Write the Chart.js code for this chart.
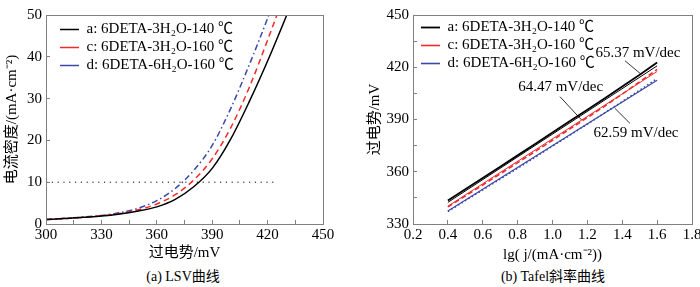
<!DOCTYPE html>
<html>
<head>
<meta charset="utf-8">
<script src="https://cdn.jsdelivr.net/npm/chart.js@4.4.1/dist/chart.umd.min.js"></script>
<style>
  body { margin: 0; background: #fff; width: 700px; height: 287px; position: relative; overflow: hidden;
         font-family: 'Liberation Serif', 'Noto Sans CJK SC', serif; }
  .panel { position: absolute; top: 0; width: 350px; height: 262px; }
  .cap { position: absolute; top: 268px; width: 350px; text-align: center; font-size: 14px; line-height: 18px; color: #000; }
</style>
</head>
<body>
<div class="panel" style="left:0"><canvas id="lsv"></canvas></div>
<div class="panel" style="left:350px"><canvas id="tafel"></canvas></div>
<div class="cap" style="left:8px">(a) LSV曲线</div>
<div class="cap" style="left:378px">(b) Tafel斜率曲线</div>
<script>
// series names (shared by both panels)
const seriesNames = ['a: 6DETA-3H₂O-140 ℃', 'c: 6DETA-3H₂O-160 ℃', 'd: 6DETA-6H₂O-160 ℃'];

// (a) LSV curves, current density in mA/cm2 vs overpotential in mV
const lsvPotential = [300, 310, 320, 330, 340, 350, 360, 370, 380, 390, 400, 410, 420, 430, 440];
const lsvA = [1.1, 1.3, 1.6, 1.9, 2.4, 3.1, 4.1, 5.9, 8.9, 13.3, 20.3, 29.2, 39.0, 49.6, 60.5];
const lsvC = [1.1, 1.3, 1.6, 1.95, 2.5, 3.4, 4.8, 7.0, 10.5, 15.6, 23.0, 32.6, 44.0, 56.0, 68];
const lsvD = [1.1, 1.35, 1.65, 2.05, 2.7, 3.8, 5.6, 8.5, 12.8, 18.8, 27.6, 38.0, 49.2, 61, 73];
const refLevel = 10;
const refRange = [300, 425];

// (b) Tafel plots, overpotential in mV vs lg(j)
const tafelLogJ = [0.4, 0.5, 0.6, 0.7, 0.8, 0.9, 1.0, 1.1, 1.2, 1.3, 1.4, 1.5, 1.6];
const tafelA = [343.5, 350.0, 356.4, 362.9, 369.4, 375.9, 382.5, 389.1, 395.6, 402.2, 408.9, 415.7, 422.7];
const tafelC = [339.8, 346.1, 352.4, 358.8, 365.2, 371.6, 378.1, 384.6, 391.1, 397.7, 404.6, 411.6, 418.8];
const tafelD = [337.2, 343.4, 349.6, 355.8, 362.0, 368.3, 374.7, 381.0, 387.4, 393.8, 400.3, 406.8, 413.6];
const fitLogJ = [0.4, 1.6];
const fitA = [342.4, 420.8];
const fitC = [340.2, 417.6];
const fitD = [337.5, 412.6];

// slope notes: text, anchor (lgj, mV), leader line ends
const slopeLabels = ['65.37 mV/dec', '64.47 mV/dec', '62.59 mV/dec'];
const slopeTextX = [1.49, 1.047, 1.479];
const slopeTextY = [428.3, 408.5, 382.4];
const leaderX = [[1.416, 1.502], [1.043, 1.167], [1.358, 1.444]];
const leaderY = [[423.7, 416.5], [403.1, 389.7], [396.4, 387.8]];

const black = '#000000';
const red = '#f22a2a';
const blue = '#3a48a8';
const frameGray = '#808080';

Chart.defaults.font.family = "'Liberation Serif', 'Noto Sans CJK SC', serif";
Chart.defaults.color = '#000';

function pts(xs, ys) { return xs.map((x, i) => ({ x: x, y: ys[i] })); }

const framePlugin = {
  id: 'frame',
  afterLayout(chart, args, opts) {
    const lg = chart.legend;
    if (lg) { lg.left += opts.dx; lg.right += opts.dx; lg.top += opts.dy; lg.bottom += opts.dy; }
  },
  afterDatasetsDraw(chart, args, opts) {
    const a = chart.chartArea, ctx = chart.ctx;
    ctx.save();
    ctx.strokeStyle = frameGray;
    ctx.lineWidth = 1;
    ctx.strokeRect(Math.round(a.left) + 0.5, Math.round(a.top) + 0.5, Math.round(a.right - a.left), Math.round(a.bottom - a.top));
    if (opts.notes) {
      ctx.fillStyle = '#000';
      ctx.font = "15px 'Liberation Serif', serif";
      ctx.textAlign = 'center';
      ctx.textBaseline = 'middle';
      opts.notes.forEach(n => {
        ctx.fillText(n.text, chart.scales.x.getPixelForValue(n.x), chart.scales.y.getPixelForValue(n.y));
      });
    }
    ctx.restore();
  }
};

function fixScale(w, h) {
  return function (scale) {
    if (w !== null) scale.width = w;
    if (h !== null) scale.height = h;
    scale.paddingLeft = 0; scale.paddingRight = 0; scale.paddingTop = 0; scale.paddingBottom = 0;
  };
}

function axisGrid() {
  return { drawOnChartArea: false, drawTicks: true, tickLength: -4, color: frameGray, tickColor: frameGray };
}

function legendOpts() {
  return {
    position: 'chartArea', align: 'start',
    labels: {
      usePointStyle: true, pointStyle: 'line', pointStyleWidth: 19,
      padding: 3, color: '#000',
      font: { size: 15 },
      filter: item => item.datasetIndex < 3
    }
  };
}

// (a) LSV
new Chart(document.getElementById('lsv'), {
  type: 'line',
  data: {
    datasets: [
      { label: seriesNames[0], data: pts(lsvPotential, lsvA), borderColor: black, borderWidth: 1.5, pointRadius: 0, cubicInterpolationMode: 'monotone', pointStyle: 'line' },
      { label: seriesNames[1], data: pts(lsvPotential, lsvC), borderColor: red, borderWidth: 1.5, borderDash: [6, 4], pointRadius: 0, cubicInterpolationMode: 'monotone', pointStyle: 'line' },
      { label: seriesNames[2], data: pts(lsvPotential, lsvD), borderColor: blue, borderWidth: 1.5, borderDash: [6, 3, 1.5, 3], pointRadius: 0, cubicInterpolationMode: 'monotone', pointStyle: 'line' },
      { label: 'ref', data: pts(refRange, [refLevel, refLevel]), borderColor: black, borderWidth: 1, borderDash: [1.2, 4.6], pointRadius: 0 }
    ]
  },
  options: {
    responsive: true, maintainAspectRatio: false, animation: false, devicePixelRatio: 1,
    layout: { padding: { top: 15, right: 27, left: 0, bottom: 0 } },
    plugins: {
      legend: legendOpts(),
      tooltip: { enabled: false },
      frame: { dx: 11, dy: 19 }
    },
    scales: {
      x: {
        type: 'linear', min: 300, max: 450,
        grid: axisGrid(), border: { color: frameGray },
        ticks: { stepSize: 15, padding: 6, maxRotation: 0, font: { size: 15 },
                 callback: (v) => (v % 30 === 0 ? v : '') },
        title: { display: true, text: '过电势/mV', font: { size: 15 }, padding: { top: 0, bottom: 0 } },
        afterFit: fixScale(null, 38)
      },
      y: {
        min: 0, max: 50,
        grid: axisGrid(), border: { color: frameGray },
        ticks: { stepSize: 5, padding: 8, font: { size: 15 },
                 callback: (v) => (v % 10 === 0 ? v : '') },
        title: { display: true, text: '电流密度/(mA·cm⁻²)', font: { size: 15 }, padding: { top: 3, bottom: 0 } },
        afterFit: fixScale(46, null)
      }
    }
  },
  plugins: [framePlugin]
});

// (b) Tafel
new Chart(document.getElementById('tafel'), {
  type: 'line',
  data: {
    datasets: [
      { label: seriesNames[0], data: pts(tafelLogJ, tafelA), borderColor: black, borderWidth: 1.8, pointRadius: 0, pointStyle: 'line' },
      { label: seriesNames[1], data: pts(tafelLogJ, tafelC), borderColor: red, borderWidth: 1.6, borderDash: [5, 3], pointRadius: 0, pointStyle: 'line' },
      { label: seriesNames[2], data: pts(tafelLogJ, tafelD), borderColor: blue, borderWidth: 1.6, borderDash: [1.5, 2.5], pointRadius: 0, pointStyle: 'line' },
      { label: 'fit a', data: pts(fitLogJ, fitA), borderColor: black, borderWidth: 1, pointRadius: 0 },
      { label: 'fit c', data: pts(fitLogJ, fitC), borderColor: red, borderWidth: 1, pointRadius: 0 },
      { label: 'fit d', data: pts(fitLogJ, fitD), borderColor: blue, borderWidth: 1.2, pointRadius: 0 },
      { label: 'lead 1', data: pts(leaderX[0], leaderY[0]), borderColor: black, borderWidth: 0.8, pointRadius: 0 },
      { label: 'lead 2', data: pts(leaderX[1], leaderY[1]), borderColor: black, borderWidth: 0.8, pointRadius: 0 },
      { label: 'lead 3', data: pts(leaderX[2], leaderY[2]), borderColor: black, borderWidth: 0.8, pointRadius: 0 }
    ]
  },
  options: {
    responsive: true, maintainAspectRatio: false, animation: false, devicePixelRatio: 1,
    layout: { padding: { top: 15, right: 8, left: 0, bottom: 0 } },
    plugins: {
      legend: legendOpts(),
      tooltip: { enabled: false },
      frame: {
        dx: 5, dy: 17,
        notes: slopeLabels.map((t, i) => ({ text: t, x: slopeTextX[i], y: slopeTextY[i] }))
      }
    },
    scales: {
      x: {
        type: 'linear', min: 0.2, max: 1.8,
        grid: axisGrid(), border: { color: frameGray },
        ticks: { stepSize: 0.1, padding: 6, maxRotation: 0, font: { size: 15 },
                 callback: (v, i) => (i % 2 === 0 ? Number(v).toFixed(1) : '') },
        title: { display: true, text: 'lg( j/(mA·cm⁻²))', font: { size: 15 }, padding: { top: 0, bottom: -2 } },
        afterFit: fixScale(null, 38)
      },
      y: {
        min: 330, max: 450,
        grid: axisGrid(), border: { color: frameGray },
        ticks: { stepSize: 15, padding: 8, font: { size: 15 },
                 callback: (v) => ((v - 330) % 30 === 0 ? v : '') },
        title: { display: true, text: '过电势/mV', font: { size: 15 }, padding: { top: 16, bottom: 0 } },
        afterFit: fixScale(63, null)
      }
    }
  },
  plugins: [framePlugin]
});
</script>
</body>
</html>
